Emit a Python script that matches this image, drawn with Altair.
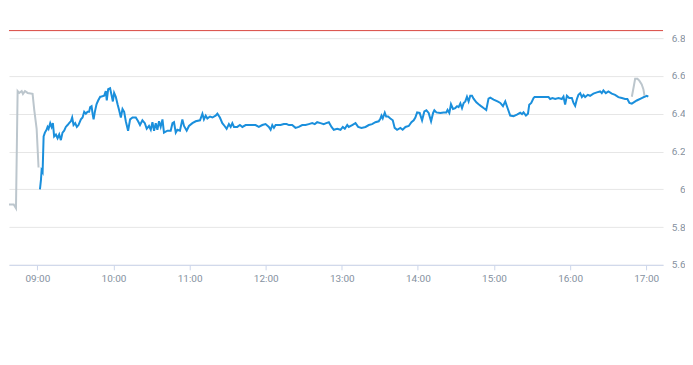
import altair as alt
import pandas as pd

# Minutes after 09:00 and prices
blue_min = [2.0, 2.8, 3.3, 4.1, 4.9, 5.9, 7.2, 8.0, 8.8, 10.1, 11.2, 12.2, 13.2, 14.6, 15.9, 17.2,
            18.5, 19.8, 21.1, 22.4, 23.8, 25.0, 26.4, 27.4, 28.5, 29.8, 31.1, 32.4, 34.3, 35.6,
            36.9, 38.2, 39.5, 40.8, 41.6, 42.7, 43.5, 44.3, 45.3, 46.6, 47.9, 49.5, 50.0, 52.6,
            53.9, 54.7, 55.8, 57.3, 58.4, 59.5, 60.5, 61.8, 63.2, 64.4, 65.8, 67.1, 68.4, 69.7,
            71.5, 73.1, 75.0, 77.6, 79.4, 80.9, 82.8, 84.7, 86.2, 88.0, 89.4, 90.7, 92.0, 93.3,
            94.6, 95.9, 97.2, 98.6, 99.8, 102.5, 105.1, 106.5, 107.7, 109.1, 110.4, 112.4, 114.3,
            115.6, 117.7, 119.5, 122.2, 124.8, 128.2, 130.1, 131.3, 132.7, 134.0, 136.1, 138.0,
            140.5, 141.9, 143.9, 145.8, 147.6, 149.2, 151.0, 152.4, 153.7, 155.0, 157.6, 159.7,
            161.6, 164.2, 168.1, 172.0, 174.6, 177.3, 179.9, 182.5, 183.9, 185.2, 186.5, 187.8,
            191.7, 194.3, 196.5, 198.3, 200.9, 203.5, 206.1, 208.8, 211.4, 214.0, 216.7, 218.7,
            220.6, 223.2, 225.8, 227.7, 229.8, 231.9, 233.7, 236.4, 239.0, 240.8, 242.4, 244.3,
            245.5, 248.2, 250.8, 252.9, 255.5, 258.7, 261.3, 263.9, 266.5, 269.1, 270.5, 271.3,
            272.3, 273.9, 275.0, 276.5, 278.3, 280.2, 281.7, 283.6, 286.2, 288.0, 290.2, 292.8,
            294.9, 296.7, 298.0, 299.4, 301.4, 303.3, 305.1, 306.7, 308.5, 310.4, 312.0, 313.0,
            314.6, 317.7, 320.3, 322.4, 323.4, 324.8, 326.1, 327.7, 329.5, 330.9, 332.1, 333.5,
            334.8, 336.1, 337.4, 338.7, 340.0, 341.3, 342.7, 343.9, 346.1, 347.9, 349.8, 351.8,
            353.9, 355.7, 357.1, 359.7, 362.8, 365.0, 367.1, 368.9, 370.7, 372.8, 375.4, 378.1,
            380.7, 382.1, 383.3, 385.2, 386.8, 387.8, 389.4, 391.2, 392.0, 403.0, 404.3, 406.1,
            408.3, 410.9, 413.5, 414.8, 416.1, 417.5, 419.3, 421.4, 422.7, 424.0, 425.4, 426.6,
            428.0, 429.3, 430.6, 431.9, 434.0, 435.8, 438.4, 441.1, 443.7, 445.0, 446.3, 448.2,
            450.2, 452.9, 455.5, 458.1, 460.8, 463.4, 465.2, 466.8, 468.7, 472.6, 476.5, 479.1,
            480.5, 481.7]
blue_val = [6.00, 6.05, 6.10, 6.09, 6.28, 6.30, 6.315, 6.33, 6.32, 6.35, 6.33, 6.35, 6.28, 6.29, 6.27, 6.29,
            6.26, 6.30, 6.31, 6.33, 6.34, 6.35, 6.36, 6.38, 6.34, 6.35, 6.33, 6.34, 6.37, 6.38,
            6.41, 6.40, 6.41, 6.41, 6.435, 6.44, 6.40, 6.37, 6.41, 6.45, 6.47, 6.49, 6.49, 6.495,
            6.52, 6.47, 6.53, 6.535, 6.50, 6.465, 6.51, 6.49, 6.45, 6.42, 6.38, 6.425, 6.41, 6.36,
            6.31, 6.37, 6.38, 6.38, 6.36, 6.34, 6.365, 6.35, 6.32, 6.335, 6.315, 6.355, 6.31, 6.35,
            6.315, 6.36, 6.33, 6.37, 6.30, 6.31, 6.31, 6.35, 6.355, 6.30, 6.315, 6.31, 6.37,
            6.335, 6.31, 6.335, 6.35, 6.36, 6.365, 6.40, 6.37, 6.39, 6.375, 6.385, 6.38,
            6.39, 6.40, 6.38, 6.35, 6.335, 6.32, 6.345, 6.33, 6.35, 6.33, 6.33, 6.34,
            6.33, 6.34, 6.34, 6.34, 6.33, 6.34, 6.345, 6.33, 6.315, 6.34, 6.325, 6.34,
            6.34, 6.345, 6.345, 6.34, 6.34, 6.325, 6.33, 6.34, 6.34, 6.345, 6.35, 6.345,
            6.355, 6.35, 6.345, 6.35, 6.355, 6.33, 6.315, 6.32, 6.315, 6.33, 6.32, 6.34,
            6.33, 6.34, 6.35, 6.33, 6.325, 6.33, 6.34, 6.345, 6.355, 6.36, 6.375, 6.39,
            6.375, 6.405, 6.385, 6.385, 6.375, 6.365, 6.325, 6.315, 6.325, 6.315, 6.33, 6.335,
            6.355, 6.365, 6.38, 6.407, 6.404, 6.365, 6.412, 6.418, 6.404, 6.36, 6.404, 6.418,
            6.407, 6.404, 6.407, 6.407, 6.42, 6.404, 6.45, 6.425, 6.43, 6.44, 6.435, 6.455,
            6.43, 6.457, 6.465, 6.49, 6.465, 6.495, 6.495, 6.48, 6.46, 6.45, 6.44, 6.43,
            6.42, 6.48, 6.485, 6.475, 6.465, 6.457, 6.44, 6.465, 6.43, 6.39, 6.387, 6.395,
            6.405, 6.398, 6.407, 6.39, 6.40, 6.448, 6.457, 6.483, 6.488, 6.488, 6.478, 6.483,
            6.478, 6.483, 6.478, 6.491, 6.448, 6.495, 6.483, 6.483, 6.457, 6.442, 6.478, 6.50,
            6.509, 6.488, 6.50, 6.488, 6.50, 6.495, 6.506, 6.513, 6.518, 6.509, 6.523, 6.509,
            6.518, 6.506, 6.50, 6.488, 6.483, 6.478, 6.478, 6.457, 6.453, 6.47, 6.483, 6.491,
            6.495, 6.491]

pre_min = [-30.0, -26.6, -24.8, -18.7, -16.9, -15.6, -14.3, -12.4, -11.4, -9.8, -7.7, -3.8, -2.5, -0.6, 0.9]
pre_val = [6.84, 5.80, 5.92, 5.92, 5.90, 6.52, 6.51, 6.52, 6.505, 6.52, 6.51, 6.505, 6.42, 6.32, 6.115]

post_min = [468.7, 470.0, 471.3, 473.1, 474.6, 476.5, 477.8, 478.7]
post_val = [6.49, 6.536, 6.585, 6.585, 6.575, 6.555, 6.53, 6.495]

ref_price = 6.84
y_ticks = [5.6, 5.8, 6.0, 6.2, 6.4, 6.6, 6.8]
x_hours = [9, 10, 11, 12, 13, 14, 15, 16, 17]

base = pd.Timestamp("2024-01-02 09:00:00")


def frame(mins, vals, series):
    t = [(base + pd.to_timedelta(m, unit="min")).strftime("%Y-%m-%dT%H:%M:%S") for m in mins]
    return pd.DataFrame({"t": t, "v": vals, "s": series})


data = pd.concat([
    frame(pre_min, pre_val, "pre"),
    frame(blue_min, blue_val, "main"),
    frame(post_min, post_val, "post"),
], ignore_index=True)

x_scale = alt.Scale(domain=[alt.DateTime(year=2024, month=1, date=2, hours=8, minutes=37, seconds=36),
                            alt.DateTime(year=2024, month=1, date=2, hours=17, minutes=13, seconds=18)])
y_scale = alt.Scale(domain=[5.6, 6.9586], nice=False, zero=False)

label_font = "Roboto"
label_color = "#8591a0"

x_axis = alt.Axis(title=None, format="%H:%M", grid=False,
                  values=[alt.DateTime(year=2024, month=1, date=2, hours=h) for h in x_hours],
                  domainColor="#ccd6eb", tickColor="#ccd6eb", tickSize=5, labelPadding=4,
                  labelColor=label_color, labelFontSize=10, labelFont=label_font,
                  labelFlush=False)
y_axis = alt.Axis(title=None, orient="right", values=y_ticks, format="~g", domain=False, ticks=False,
                  gridColor="#e6e6e6", labelPadding=22, labelAlign="right",
                  labelColor=label_color, labelFontSize=10, labelFont=label_font)

lines = alt.Chart(data).mark_line(strokeWidth=2, clip=True).encode(
    x=alt.X("t:T", scale=x_scale, axis=x_axis),
    y=alt.Y("v:Q", scale=y_scale, axis=y_axis),
    color=alt.Color("s:N", scale=alt.Scale(domain=["pre", "post", "main"],
                                           range=["#bcc6cd", "#bcc6cd", "#1a8fdc"]), legend=None),
    detail="s:N",
)
ref = alt.Chart(pd.DataFrame({"p": [ref_price]})).mark_rule(color="#d9463e", strokeWidth=1).encode(
    y=alt.Y("p:Q", scale=y_scale),
)

chart = alt.layer(lines, ref).properties(width=655, height=257, padding=0).configure_view(stroke=None)

chart.save("out.html", embed_options={"renderer": "svg", "actions": False})
